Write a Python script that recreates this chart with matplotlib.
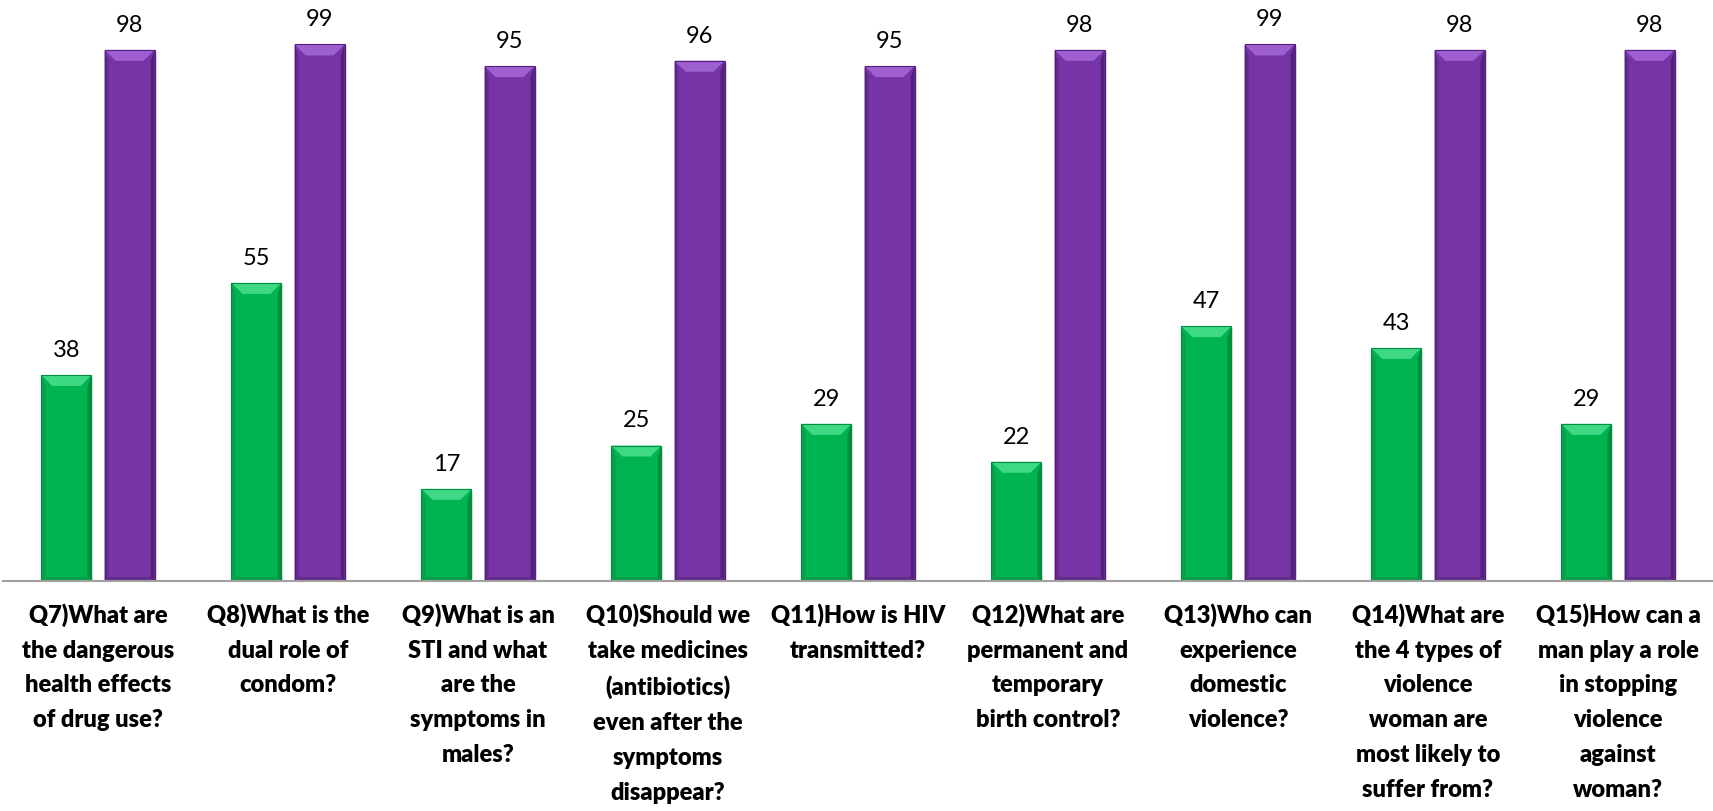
import matplotlib
matplotlib.use("Agg")
import matplotlib.pyplot as plt
from matplotlib.patches import Polygon, Rectangle
import numpy as np

questions = [
    "Q7)What are\nthe dangerous\nhealth effects\nof drug use?",
    "Q8)What is the\ndual role of\ncondom?",
    "Q9)What is an\nSTI and what\nare the\nsymptoms in\nmales?",
    "Q10)Should we\ntake medicines\n(antibiotics)\neven after the\nsymptoms\ndisappear?",
    "Q11)How is HIV\ntransmitted?",
    "Q12)What are\npermanent and\ntemporary\nbirth control?",
    "Q13)Who can\nexperience\ndomestic\nviolence?",
    "Q14)What are\nthe 4 types of\nviolence\nwoman are\nmost likely to\nsuffer from?",
    "Q15)How can a\nman play a role\nin stopping\nviolence\nagainst\nwoman?",
]
before = [38, 55, 17, 25, 29, 22, 47, 43, 29]
after = [98, 99, 95, 96, 95, 98, 99, 98, 98]

W, H, DPI = 1713, 811, 100
fig = plt.figure(figsize=(W / DPI, H / DPI), dpi=DPI)
ax = fig.add_axes([3 / W, (H - 581) / H, 1710 / W, (581 - 39) / H])
ax.set_xlim(-0.5, len(questions) - 0.5)
ax.set_ylim(0, 100)

x = np.arange(len(questions))
bw = 0.263
off = 0.166

styles = [
    (before, -off, "#00B451", "#3FD986", "#008F3E", "#0A9E48"),
    (after, off, "#7634A6", "#9E5FD0", "#55207C", "#632A8C"),
]

# pixel size in data units, for the bevel geometry
px_x = (ax.get_xlim()[1] - ax.get_xlim()[0]) / 1710
px_y = 100 / (581 - 39)
bev_h = 11 * px_y
bev_w = 11 * px_x
side_w = 4 * px_x
bot_h = 4 * px_y

for vals, dx, base, light, dark, mid in styles:
    bars = ax.bar(x + dx, vals, width=bw, color=base, edgecolor="none", zorder=2)
    for b, v in zip(bars, vals):
        x0, w, h = b.get_x(), b.get_width(), b.get_height()
        x1 = x0 + w
        # soft shadow
        ax.add_patch(Rectangle((x0 + 2 * px_x, 0), w, h - 2 * px_y,
                               color="#000000", alpha=0.12, zorder=1, lw=0))
        # side bevels
        ax.add_patch(Polygon([(x0, 0), (x0 + side_w, bot_h), (x0 + side_w, h - bev_h),
                              (x0, h)], closed=True, color=mid, lw=0, zorder=3))
        ax.add_patch(Polygon([(x1, 0), (x1 - side_w, bot_h), (x1 - side_w, h - bev_h),
                              (x1, h)], closed=True, color=dark, lw=0, zorder=3))
        ax.add_patch(Polygon([(x0, 0), (x1, 0), (x1 - side_w, bot_h), (x0 + side_w, bot_h)],
                             closed=True, color=mid, lw=0, zorder=3))
        # top bevel
        ax.add_patch(Polygon([(x0, h), (x1, h), (x1 - bev_w, h - bev_h), (x0 + bev_w, h - bev_h)],
                             closed=True, color=light, lw=0, zorder=3))
        ax.add_patch(Rectangle((x0, 0), w, h, fill=False, edgecolor=dark, lw=0.8, zorder=4))
        ax.annotate(f"{v:g}", (b.get_x() + w / 2, h), xytext=(0, 13),
                    textcoords="offset points", ha="center", va="baseline",
                    fontsize=17, family="Lato", color="#000000")

for s in ["top", "left", "right"]:
    ax.spines[s].set_visible(False)
ax.spines["bottom"].set_color("#A0A0A0")
ax.spines["bottom"].set_linewidth(1.5)
ax.spines["bottom"].set_zorder(5)
ax.set_yticks([])
ax.set_xticks(x)
ax.set_xticklabels(questions, fontsize=17, family="Lato", fontweight="heavy",
                   linespacing=1.71, va="top")
ax.tick_params(axis="x", length=0, pad=16)

fig.savefig("out.png", dpi=DPI, facecolor="white")
